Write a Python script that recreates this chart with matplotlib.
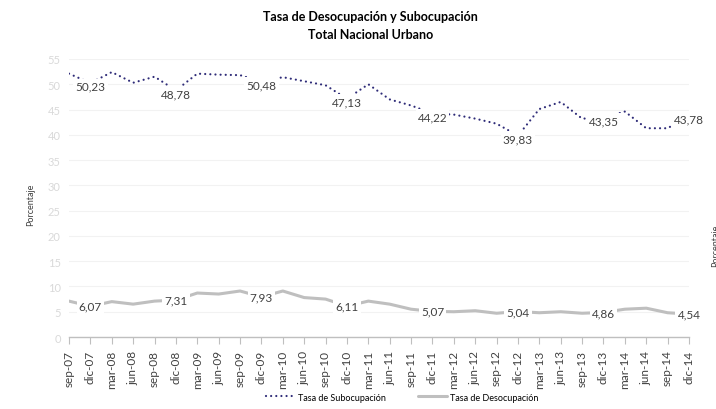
import numpy as np
import matplotlib
matplotlib.use("Agg")
from matplotlib import pyplot as plt

plt.rcParams['font.family'] = ['Lato', 'DejaVu Sans']

# quarterly periods sep-07 .. dic-14
periodos = ['sep-07', 'dic-07', 'mar-08', 'jun-08', 'sep-08', 'dic-08',
            'mar-09', 'jun-09', 'sep-09', 'dic-09', 'mar-10', 'jun-10',
            'sep-10', 'dic-10', 'mar-11', 'jun-11', 'sep-11', 'dic-11',
            'mar-12', 'jun-12', 'sep-12', 'dic-12', 'mar-13', 'jun-13',
            'sep-13', 'dic-13', 'mar-14', 'jun-14', 'sep-14', 'dic-14']

subocupacion = [52.1, 50.23, 52.4, 50.3, 51.5, 48.78,
                52.1, 51.9, 51.8, 50.48, 51.4, 50.6,
                49.8, 47.13, 50.0, 47.0, 45.8, 44.22,
                44.0, 43.2, 42.2, 39.83, 45.1, 46.5,
                43.2, 43.35, 44.6, 41.3, 41.3, 43.78]

desocupacion = [7.1, 6.07, 7.0, 6.5, 7.1, 7.31,
                8.7, 8.5, 9.1, 7.93, 9.1, 7.8,
                7.5, 6.11, 7.1, 6.5, 5.5, 5.07,
                5.0, 5.2, 4.7, 5.04, 4.8, 5.0,
                4.7, 4.86, 5.5, 5.7, 4.8, 4.54]

x = np.arange(len(periodos))

fig = plt.figure(figsize=(7.16, 4.10), dpi=100)
ax = fig.add_axes([0.0964, 0.1756, 0.8659, 0.6781])

ax.plot(x, subocupacion, color='#2E2B78', lw=1.6, linestyle=(0, (0.01, 2.3)),
        dash_capstyle='round', label='Tasa de Subocupación', zorder=3)
ax.plot(x, desocupacion, color='#BFBFBF', lw=2.2, solid_capstyle='round',
        label='Tasa de Desocupación', zorder=3)

# labels on december points
box = dict(facecolor='white', edgecolor='none', pad=1.5)
for i, p in enumerate(periodos):
    if p.startswith('dic'):
        ax.text(i, subocupacion[i] - 0.6, f'{subocupacion[i]:.2f}'.replace('.', ','),
                ha='center', va='center', fontsize=8.5, color='#404040', bbox=box, zorder=4)
        ax.text(i, desocupacion[i], f'{desocupacion[i]:.2f}'.replace('.', ','),
                ha='center', va='center', fontsize=8.5, color='#404040', bbox=box, zorder=4)

ax.set_xlim(0, len(periodos) - 1)
ax.set_ylim(0, 55)
ax.set_yticks(np.arange(0, 56, 5))
ax.set_xticks(x)
ax.set_xticklabels(periodos, rotation=90, fontsize=8.5, color='#404040')
ax.tick_params(axis='y', length=0, labelsize=8, labelcolor='#D9D9D9', pad=6)
ax.tick_params(axis='x', length=5, color='#BFBFBF', pad=4)
ax.yaxis.grid(True, color='#F2F2F2', lw=0.8)
ax.set_axisbelow(True)
for s in ['top', 'right', 'left']:
    ax.spines[s].set_visible(False)
ax.spines['bottom'].set_color('#BFBFBF')
ax.spines['bottom'].set_linewidth(1.0)

fig.text(0.043, 0.50, 'Porcentaje', rotation=90, ha='center', va='center',
         fontsize=6.5, color='#404040')
fig.text(1.0, 0.40, 'Porcentaje', rotation=90, ha='center', va='center',
         fontsize=6.5, color='#404040')

fig.text(0.517, 0.958, 'Tasa de Desocupación y Subocupación', ha='center', va='center',
         fontsize=9, fontweight='bold', color='#000000')
fig.text(0.517, 0.914, 'Total Nacional Urbano', ha='center', va='center',
         fontsize=9, fontweight='bold', color='#000000')

fig.legend(loc='center', bbox_to_anchor=(0.562, 0.029), ncol=2, frameon=False,
           fontsize=6.5, columnspacing=3.6, handlelength=3.2, handletextpad=0.3)

fig.savefig('out.png', dpi=100)
